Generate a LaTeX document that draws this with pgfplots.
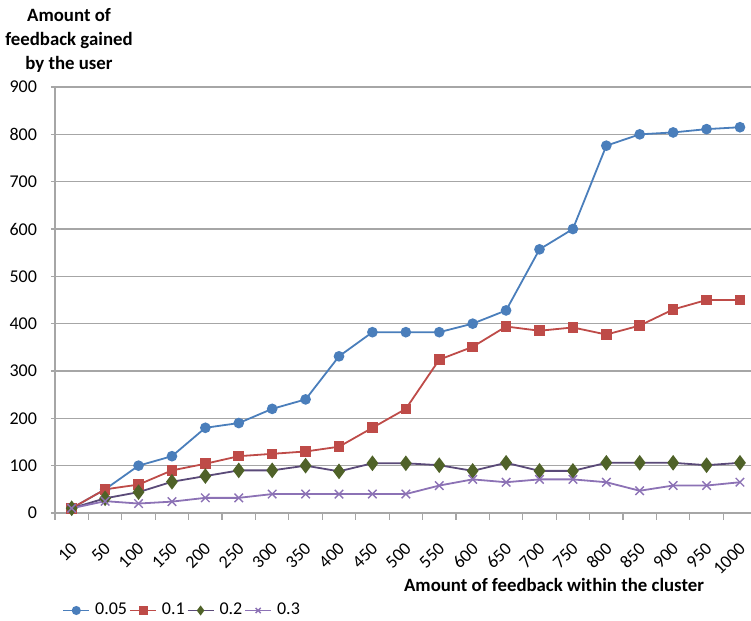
\documentclass[border=0pt]{standalone}
\usepackage{pgfplots}
\pgfplotsset{compat=1.18}
\usepackage{pgfplotstable}
\usepackage{fontspec}
\setmainfont{Carlito}

\definecolor{cblue}{HTML}{4A7EBB}
\definecolor{cred}{HTML}{BE4B48}
\definecolor{cgreenm}{HTML}{4F6228}
\definecolor{cgreenl}{HTML}{5A4A78}
\definecolor{cpurple}{HTML}{8C72B5}
\definecolor{cgrid}{HTML}{A6A6A6}

\pgfplotstableread{
x a b c d
0 10 10 10 10
1 50 50 31 25
2 100 60 44 20
3 120 90 66 24
4 180 104 78 32
5 190 120 90 32
6 220 125 90 40
7 240 130 100 40
8 331 140 88 40
9 382 180 105 40
10 382 220 105 40
11 382 324 101 58
12 400 351 89 71
13 428 394 106 65
14 557 385 89 71
15 600 392 89 71
16 776 377 106 65
17 800 396 106 47
18 804 430 106 58
19 811 450 101 58
20 815 450 106 65
}\data

\begin{document}
\begin{tikzpicture}
\path[use as bounding box] (-27.5pt,-54pt) rectangle (348pt,256.5pt);
\begin{axis}[
  at={(0,0)}, anchor=south west,
  scale only axis, width=348pt, height=213pt,
  xmin=-0.5, xmax=20.33, ymin=0, ymax=900,
  clip=false,
  axis x line*=bottom, axis y line*=left,
  axis line style={cgrid, line width=0.6pt, -},
  tick align=outside,
  tick style={cgrid, line width=0.6pt},
  xtick={0,...,20},
  xticklabels={10,50,100,150,200,250,300,350,400,450,500,550,600,650,700,750,800,850,900,950,1000},
  major x tick style={draw=none},
  minor xtick={-0.5,0.5,...,19.5},
  minor tick length=3.5pt,
  major tick length=2pt,
  ytick={0,100,...,900},
  ymajorgrids,
  grid style={cgrid, line width=0.6pt},
  /pgf/number format/assume math mode=true,
  ticklabel style={font=\fontsize{9}{10}\selectfont, text=black},
  xticklabel style={xshift=-1pt, yshift=-12pt, rotate=45, anchor=north east, inner sep=0pt},
  yticklabel style={xshift=-3.5pt},
  ylabel={Amount of\\feedback gained\\by the user},
  ylabel style={rotate=-90, at={(axis description cs:0,1)}, anchor=center, xshift=7pt, yshift=23.5pt, align=center, font=\bfseries\fontsize{9.4}{12}\selectfont},
  xlabel={Amount of feedback within the cluster},
  xlabel style={at={(axis description cs:0,0)}, anchor=center, xshift=249.5pt, yshift=-36pt, font=\bfseries\fontsize{9.4}{11}\selectfont},
  legend style={draw=none, fill=none, legend columns=-1, at={(axis description cs:0,0)}, anchor=west, xshift=3.5pt, yshift=-48.75pt, font=\fontsize{9}{10}\selectfont, inner sep=0pt, nodes={inner sep=0.5pt}, /tikz/every even column/.append style={column sep=0.5pt}, /tikz/every odd column/.append style={column sep=2pt}},
  legend image code/.code={\draw[mark repeat=2,mark phase=2, mark size=1.8pt] plot coordinates {(0pt,0pt) (6.5pt,0pt) (13pt,0pt)};},
]
\addplot[cblue, line width=0.9pt, mark=*, mark size=2.2pt, mark options={fill=cblue, draw=cblue}] table[x=x, y=a] {\data};
\addlegendentry{0.05}
\addplot[cred, line width=0.9pt, mark=square*, mark size=2.2pt, mark options={fill=cred, draw=cred}] table[x=x, y=b] {\data};
\addlegendentry{0.1}
\addplot[cgreenl, line width=0.9pt, mark=diamond*, mark size=3.2pt, mark options={fill=cgreenm, draw=cgreenm}] table[x=x, y=c] {\data};
\addlegendentry{0.2}
\addplot[cpurple, line width=0.9pt, mark=x, mark size=3pt, mark options={draw=cpurple, line width=0.7pt}] table[x=x, y=d] {\data};
\addlegendentry{0.3}
\end{axis}
\end{tikzpicture}
\end{document}
